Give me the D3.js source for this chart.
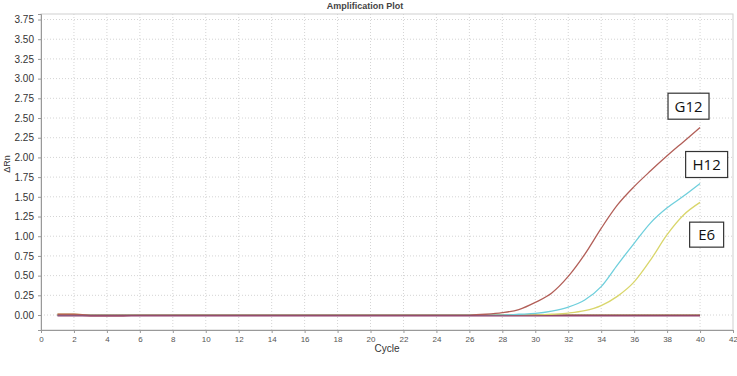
<!DOCTYPE html>
<html>
<head>
<meta charset="utf-8">
<script src="https://cdn.jsdelivr.net/npm/d3@7"></script>
<style>
  body { margin: 0; background: #fff; }
  svg { display: block; }
</style>
</head>
<body>
<div id="chart"></div>
<script>
// Cycles 1..40 and delta Rn per well
const cycles = d3.range(1, 41);
const g12 = [0.01, 0.01, 0, 0, 0, 0, 0, 0, 0, 0, 0, 0, 0, 0, 0, 0, 0, 0, 0, 0,
             0, 0, 0, 0, 0, 0, 0.01, 0.03, 0.07, 0.16, 0.28, 0.49, 0.77, 1.1, 1.4, 1.63, 1.83, 2.02, 2.2, 2.38];
const h12 = [0, 0, 0, 0, 0, 0, 0, 0, 0, 0, 0, 0, 0, 0, 0, 0, 0, 0, 0, 0,
             0, 0, 0, 0, 0, 0, 0, 0, 0.01, 0.02, 0.05, 0.1, 0.19, 0.36, 0.64, 0.91, 1.17, 1.36, 1.51, 1.67];
const e6 = [0.01, 0.01, 0, 0, 0, 0, 0, 0, 0, 0, 0, 0, 0, 0, 0, 0, 0, 0, 0, 0,
            0, 0, 0, 0, 0, 0, 0, 0, 0, 0, 0.01, 0.025, 0.055, 0.12, 0.24, 0.42, 0.7, 1.02, 1.27, 1.43];
const flatA = [0, 0, -0.01, -0.01, -0.01, 0, 0, 0, 0, 0, 0, 0, 0, 0, 0, 0, 0, 0, 0, 0,
               0, 0, 0, 0, 0, 0, 0, 0, 0, 0, 0, 0, 0, 0, 0, 0, 0, 0, 0, 0];
const flatB = [-0.01, -0.01, -0.01, -0.01, -0.01, -0.01, -0.01, -0.01, -0.01, -0.01, -0.01, -0.01, -0.01, -0.01, -0.01, -0.01, -0.01, -0.01, -0.01, -0.01,
               -0.01, -0.01, -0.01, -0.01, -0.01, -0.01, -0.01, -0.01, -0.01, -0.01, -0.01, -0.01, -0.01, -0.01, -0.01, -0.01, -0.01, -0.01, -0.01, -0.01];
const flatC = [0, 0, 0, 0, 0, 0, 0, 0, 0, 0, 0, 0, 0, 0, 0, 0, 0, 0, 0, 0,
               0, 0, 0, 0, 0, 0, 0, 0, 0, 0, 0, 0, 0, 0, 0, 0, 0, 0, 0, 0];

const xTicks = d3.range(0, 43, 2);
const yTicks = [0, 0.25, 0.5, 0.75, 1, 1.25, 1.5, 1.75, 2, 2.25, 2.5, 2.75, 3, 3.25, 3.5, 3.75];

const series = [
    { name: "flatC", values: flatC, color: "#7aa860" },
    { name: "flatA", values: flatA, color: "#a8504a" },
    { name: "E6", values: e6, color: "#d9d66b" },
    { name: "H12", values: h12, color: "#6fcfdc" },
    { name: "G12", values: g12, color: "#b25f58" },
    { name: "flatB", values: flatB, color: "#8e3c6c" }
];

// Callout boxes (cycle, delta Rn at box centre)
const labels = [
    { text: "G12", x: 39.3, y: 2.65, w: 41, h: 26 },
    { text: "H12", x: 40.4, y: 1.91, w: 42, h: 26 },
    { text: "E6", x: 40.4, y: 1.02, w: 34, h: 25 }
];

const W = 737, H = 376;
const margin = { top: 14, right: 4, bottom: 46, left: 41 };
const width = W - margin.left - margin.right;
const height = H - margin.top - margin.bottom;

const svg = d3.select("#chart").append("svg")
    .attr("width", W)
    .attr("height", H)
    .style("font-family", "'Liberation Sans', Arial, sans-serif");

const g = svg.append("g")
    .attr("transform", "translate(" + margin.left + "," + margin.top + ")");

const x = d3.scaleLinear().domain([0, 42]).range([0, width]);
const y = d3.scaleLinear().domain([-0.19, 3.82]).range([height, 0]);

// Grid
g.append("g").selectAll("line")
    .data(xTicks.slice(1, -1))
    .enter().append("line")
    .attr("x1", d => x(d)).attr("x2", d => x(d))
    .attr("y1", 0).attr("y2", height)
    .attr("stroke", "#d4d4d4")
    .attr("stroke-dasharray", "1,2");

g.append("g").selectAll("line")
    .data(yTicks)
    .enter().append("line")
    .attr("x1", 0).attr("x2", width)
    .attr("y1", d => y(d)).attr("y2", d => y(d))
    .attr("stroke", "#d4d4d4")
    .attr("stroke-dasharray", "1,2");

// Frame
g.append("rect")
    .attr("width", width).attr("height", height)
    .attr("fill", "none")
    .attr("stroke", "#cfcfcf");

// Axes
const xAxis = d3.axisBottom(x).tickValues(xTicks).tickSize(3).tickPadding(3);
const yAxis = d3.axisLeft(y).tickValues(yTicks).tickSize(3).tickPadding(4).tickFormat(d3.format(".2f"));

const gx = g.append("g")
    .attr("transform", "translate(0," + height + ")")
    .call(xAxis);
gx.select(".domain").attr("stroke", "#999");
gx.selectAll(".tick line").attr("stroke", "#999");
gx.selectAll("text").attr("fill", "#555").style("font-size", "8px");

const gy = g.append("g").call(yAxis);
gy.select(".domain").attr("stroke", "#999");
gy.selectAll(".tick line").attr("stroke", "#999");
gy.selectAll("text").attr("fill", "#333").style("font-size", "10px");

// Curves
const line = d3.line()
    .x((d, i) => x(cycles[i]))
    .y(d => y(d))
    .curve(d3.curveMonotoneX);

g.selectAll(".curve")
    .data(series)
    .enter().append("path")
    .attr("class", "curve")
    .attr("d", d => line(d.values))
    .attr("fill", "none")
    .attr("stroke", d => d.color)
    .attr("stroke-width", 1.3);

// Callouts
const lab = g.selectAll(".lab")
    .data(labels)
    .enter().append("g")
    .attr("class", "lab")
    .attr("transform", d => "translate(" + x(d.x) + "," + y(d.y) + ")");

lab.append("rect")
    .attr("x", d => -d.w / 2).attr("y", d => -d.h / 2)
    .attr("width", d => d.w).attr("height", d => d.h)
    .attr("fill", "#fff")
    .attr("stroke", "#333")
    .attr("stroke-width", 1.2);

lab.append("text")
    .attr("text-anchor", "middle")
    .attr("dy", "0.36em")
    .style("font-size", "15px")
    .style("font-family", "'Open Sans', 'Liberation Sans', sans-serif")
    .attr("fill", "#111")
    .text(d => d.text);

// Title and axis labels
svg.append("text")
    .attr("x", 365).attr("y", 9)
    .attr("text-anchor", "middle")
    .style("font-size", "9px")
    .style("font-weight", "bold")
    .attr("fill", "#444")
    .text("Amplification Plot");

svg.append("text")
    .attr("x", margin.left + width / 2)
    .attr("y", 352)
    .attr("text-anchor", "middle")
    .style("font-size", "10px")
    .attr("fill", "#333")
    .text("Cycle");

svg.append("text")
    .attr("transform", "rotate(-90)")
    .attr("x", -(margin.top + height / 2) + 8)
    .attr("y", 10)
    .attr("text-anchor", "middle")
    .style("font-size", "9px")
    .attr("fill", "#333")
    .text("ΔRn");
</script>
</body>
</html>
